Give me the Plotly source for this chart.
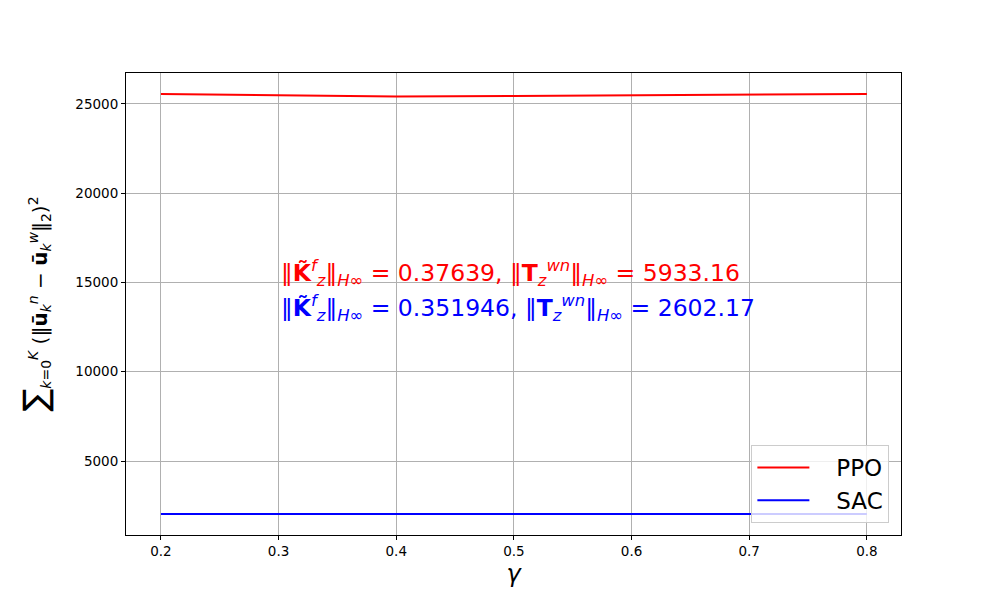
import plotly.graph_objects as go

gamma = [0.2, 0.3, 0.4, 0.5, 0.6, 0.7, 0.8]
ppo = [25560, 25500, 25420, 25450, 25480, 25510, 25560]
sac = [2030, 2030, 2030, 2030, 2030, 2030, 2030]
x_ticks = [0.2, 0.3, 0.4, 0.5, 0.6, 0.7, 0.8]
y_ticks = [5000, 10000, 15000, 20000, 25000]
series_names = ["PPO", "SAC"]

ppo_text = "‖<b>K̃</b><sup><i>f</i></sup><sub><i>z</i></sub>‖<sub><i>H</i>∞</sub> = 0.37639, ‖<b>T</b><sub><i>z</i></sub><sup><i>wn</i></sup>‖<sub><i>H</i>∞</sub> = 5933.16"
sac_text = "‖<b>K̃</b><sup><i>f</i></sup><sub><i>z</i></sub>‖<sub><i>H</i>∞</sub> = 0.351946, ‖<b>T</b><sub><i>z</i></sub><sup><i>wn</i></sup>‖<sub><i>H</i>∞</sub> = 2602.17"

y_title = ("<span style='font-size:34px'>∑</span><sub><i>k</i>=0</sub><sup><i>K</i></sup> "
           "(‖<b>ū</b><sub><i>k</i></sub><sup><i>n</i></sup> − <b>ū</b><sub><i>k</i></sub><sup><i>w</i></sup>‖<sub>2</sub>)<sup>2</sup>")

pad = "\u00a0\u00a0\u00a0"

fig = go.Figure()
fig.add_trace(go.Scatter(x=gamma, y=ppo, mode="lines", name=pad + series_names[0],
                         line=dict(color="red", width=2)))
fig.add_trace(go.Scatter(x=gamma, y=sac, mode="lines", name=pad + series_names[1],
                         line=dict(color="blue", width=2)))

axis_common = dict(showline=True, linecolor="black", linewidth=1, mirror=True,
                   ticks="outside", ticklen=4, tickcolor="black",
                   showgrid=True, gridcolor="#b0b0b0", gridwidth=1, zeroline=False,
                   tickfont=dict(family="DejaVu Sans", size=13.5, color="black"))

fig.update_xaxes(range=[0.1703, 0.829], tickvals=x_ticks,
                 ticktext=[f"{v:.1f}" for v in x_ticks],
                 title=dict(text="<i>γ</i>", font=dict(family="DejaVu Sans", size=24, color="black"), standoff=6),
                 **axis_common)
fig.update_yaxes(range=[856, 26736], tickvals=y_ticks,
                 ticktext=[str(v) for v in y_ticks],
                 title=dict(text=y_title,
                            font=dict(family="DejaVu Sans", size=20, color="black"), standoff=22),
                 **axis_common)

fig.add_annotation(x=0.3, y=15536, xref="x", yref="y", text=ppo_text, showarrow=False,
                   xanchor="left", yanchor="middle",
                   font=dict(family="DejaVu Sans", size=23.5, color="red"))
fig.add_annotation(x=0.3, y=13576, xref="x", yref="y", text=sac_text, showarrow=False,
                   xanchor="left", yanchor="middle",
                   font=dict(family="DejaVu Sans", size=23.5, color="blue"))

fig.update_layout(
    width=1000, height=600,
    margin=dict(l=118, r=107, t=65, b=73),
    plot_bgcolor="white", paper_bgcolor="white",
    font=dict(family="DejaVu Sans", color="black"),
    legend=dict(x=0.985, y=0.026, xanchor="right", yanchor="bottom",
                bgcolor="rgba(255,255,255,0.8)", bordercolor="#cccccc", borderwidth=1,
                font=dict(family="DejaVu Sans", size=23, color="black"),
                itemwidth=52, tracegroupgap=0),
    showlegend=True,
)

fig.write_html("out.html")
